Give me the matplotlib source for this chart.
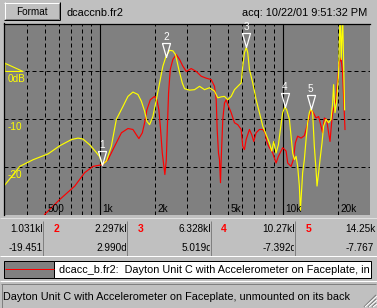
import matplotlib
matplotlib.use("Agg")
import matplotlib.pyplot as plt
from matplotlib import transforms
from matplotlib.lines import Line2D
from matplotlib.patches import Rectangle
from matplotlib.transforms import Bbox, TransformedBbox

plt.rcParams['font.family'] = ['Liberation Sans', 'DejaVu Sans']

W, H = 377, 308

# yellow trace (Hz, dB)
yellow_freq = [300, 366, 433, 522, 605, 701, 761, 811, 882, 959, 1000, 1031, 1088, 1158, 1233,
               1340, 1427, 1519, 1618, 1689, 1760, 1811, 1874, 1953, 2039, 2125, 2215, 2297,
               2409, 2511, 2597, 2708, 2827, 2910, 3097, 3298, 3512, 3740, 3982, 4240, 4420,
               4613, 4807, 5012, 5230, 5452, 5683, 5932, 6050, 6180, 6328, 6443, 6582, 6862,
               7159, 7464, 7781, 8121, 8464, 8710, 8932, 9204, 9474, 9714, 10000, 10270, 10515,
               10879, 11112, 11340, 11582, 11833, 12073, 12334, 12491, 12697, 12856, 13134,
               13418, 13689, 13984, 14250, 14576, 14889, 15212, 15404, 15716, 15996, 16402,
               16737, 17250, 17823, 18366, 18742, 18977, 19316, 19707, 20209, 20570, 20900,
               21252, 21797]
yellow_db = [-23.9, -19.8, -18.4, -17.2, -15.5, -14.2, -13.9, -14.1, -15.3, -16.9, -17.8, -19.45,
             -18.7, -15.6, -10.0, -7.3, -5.2, -4.3, -4.8, -6.2, -8.3, -10.4, -11.1, -9.4, -5.9,
             -2.4, 1.1, 2.99, 4.4, 4.3, 3.5, 0.4, -2.4, -3.6, -3.9, -3.8, -3.1, -3.8, -3.4, -4.1,
             -5.5, -5.3, -5.2, -5.9, -5.2, -3.8, -3.1, -2.4, 1.1, 3.9, 5.02, 3.9, 0.4, -2.4, -5.9,
             -8.6, -11.4, -13.2, -14.9, -16.6, -14.6, -17.0, -15.3, -12.1, -8.6, -7.39, -8.0,
             -10.0, -13.5, -17.0, -18.4, -17.7, -19.8, -23.9, -29.0, -24.6, -21.1, -18.4, -14.2,
             -10.7, -8.6, -7.77, -8.6, -15.6, -20.5, -23.9, -21.1, -18.4, -14.9, -11.4, -10.0,
             -10.7, -10.0, -6.6, -2.75, -8.6, -6.6, -0.3, 12.0, 2.5, 12.0, -8.0]

# red trace (Hz, dB)
red_freq = [485, 501, 605, 731, 828, 919, 1031, 1110, 1207, 1314, 1427, 1519, 1586, 1638, 1710,
            1760, 1811, 1891, 1995, 2054, 2106, 2151, 2198, 2243, 2271, 2312, 2341, 2379, 2430,
            2511, 2621, 2732, 2848, 2972, 3164, 3370, 3588, 3821, 4068, 4240, 4332, 4386, 4458,
            4515, 4572, 4613, 4706, 4807, 4911, 5012, 5230, 5452, 5683, 5932, 6050, 6180, 6314,
            6582, 6775, 6947, 7159, 7464, 7781, 8017, 8221, 8464, 8820, 9204, 9474, 9800, 10000,
            10437, 10650, 11112, 11438, 11729, 12073, 12601, 13134, 13418, 13862, 14284, 14703,
            15212, 15716, 16200, 16528, 16885, 17378, 17823, 18138, 18438, 18742, 19143, 19558,
            19957, 20385, 20830, 21252, 21711, 21901]
red_db = [-31.0, -29.8, -26.7, -23.9, -21.1, -19.8, -19.45, -18.4, -15.6, -12.8, -11.9, -12.1,
          -13.2, -14.0, -12.8, -10.7, -8.0, -5.9, -5.2, -5.9, -8.0, -12.1, -17.0, -19.8, -21.5,
          -18.4, -12.1, -4.5, 0.4, 2.5, 3.5, 2.5, 1.1, 0.0, 0.6, 0.0, -1.0, -1.4, -1.7, -3.1,
          -5.9, -12.1, -17.0, -18.4, -23.2, -18.4, -10.0, -6.6, -5.9, -6.9, -8.6, -10.7, -11.1,
          -12.1, -15.6, -16.3, -14.2, -12.1, -13.2, -14.6, -12.8, -12.1, -12.1, -12.8, -14.9,
          -15.9, -17.0, -19.1, -17.7, -16.6, -15.9, -16.6, -19.1, -19.8, -18.4, -14.9, -13.5,
          -13.9, -13.4, -12.1, -10.0, -8.0, -8.6, -9.7, -9.4, -11.4, -12.8, -9.7, -10.0, -12.8,
          -14.6, -11.4, -8.6, -7.3, -5.9, -1.7, 1.8, 2.8, -0.3, -8.6, -12.1]

marker_freq = [1031, 2297, 6328, 10270, 14250]
marker_db = [-19.451, 2.990, 5.019, -7.392, -7.767]

grid_freq = [400, 500, 600, 700, 800, 900, 2000, 3000, 4000, 5000, 6000, 7000, 8000, 9000, 20000]
decade_freq = [1000, 10000]
grid_db = [0, -10, -20]
xlabel_freq = [500, 1000, 2000, 5000, 10000, 20000]
xlabel_text = ['500', '1k', '2k', '5k', '10k', '20k']
ylabel_db = [0, -10, -20]
ylabel_text = ['0dB', '-10', '-20']

file_name = "dcaccnb.fr2"
acq_text = "acq: 10/22/01 9:51:32 PM"
legend_text = "dcacc_b.fr2:  Dayton Unit C with Accelerometer on Faceplate, in"
status_text = "Dayton Unit C with Accelerometer on Faceplate, unmounted on its back"

WIN = '#c0c0c0'
DARK = '#808080'
YEL = '#ffff00'
RED = '#ff0000'

fig = plt.figure(figsize=(W / 100, H / 100), dpi=100, facecolor=WIN)
# pixel coordinates, origin top-left
px = transforms.Affine2D().scale(1 / W, -1 / H).translate(0, 1) + fig.transFigure


def box(l, t, r, b):
    return [l / W, 1 - b / H, (r - l) / W, (b - t) / H]


def line(xs, ys, color, lw=0.72):
    fig.add_artist(Line2D(xs, ys, transform=px, color=color, lw=lw, solid_capstyle='butt'))


# ---- plot area
ax = fig.add_axes(box(4, 23.5, 370, 215.3))
ax.set_facecolor(DARK)
ax.set_xscale('log')
ax.set_xlim(300, 30000)
ax.set_ylim(-30, 10)
ax.tick_params(which='both', left=False, bottom=False, labelleft=False, labelbottom=False)
for s in ['right', 'bottom']:
    ax.spines[s].set_visible(False)
for s in ['left', 'top']:
    ax.spines[s].set_color('black')
    ax.spines[s].set_linewidth(0.9)

for f in grid_freq:
    ax.axvline(f, color='black', lw=0.72, ls=(0, (4, 3)))
for f in decade_freq:
    ax.axvline(f, color='black', lw=0.8)
for d in grid_db:
    ax.axhline(d, color='black', lw=0.72, ls=(0, (4, 3)))

ax.plot(red_freq, red_db, color=RED, lw=0.85)
ax.plot(yellow_freq, yellow_db, color=YEL, lw=0.85)

# markers: hollow triangle with tip on the point, number above
tri = [(-4, 14), (4, 14), (0, 0), (-4, 14)]
ax.plot(marker_freq, marker_db, ls='none', marker=tri, ms=20.16, mfc='none',
        mec='white', mew=0.9, clip_on=False)
for i, (f, d) in enumerate(zip(marker_freq, marker_db)):
    ax.annotate(str(i + 1), (f, d), xytext=(0, 12.2), textcoords='offset points',
                ha='center', va='baseline', color='white', fontsize=7.2, annotation_clip=False)

# axis labels drawn inside the plot
xblend = transforms.blended_transform_factory(ax.transData, px)
for f, s in zip(xlabel_freq, xlabel_text):
    ax.text(f, 211.7, s, transform=transforms.offset_copy(xblend, fig=fig, x=3, units='dots'),
            fontsize=7.2, color='black', ha='left', va='baseline')
yblend = transforms.blended_transform_factory(px, ax.transData)
for d, s in zip(ylabel_db, ylabel_text):
    ax.text(7.3, d, s, transform=transforms.offset_copy(yblend, fig=fig, y=-11, units='dots'),
            fontsize=7.2, color=YEL, ha='left', va='baseline')
ax.add_line(Line2D([5, 5, 23, 5], [1.7, 0, 0, 1.7], transform=yblend, color=YEL, lw=0.8))

# ---- top bar
fig.add_artist(Rectangle((4, 2), 56, 18, transform=px, facecolor=WIN, edgecolor='none'))
line([4, 59.5], [2.5, 2.5], 'white')
line([4.5, 4.5], [2, 19.5], 'white')
line([4, 60], [19.5, 19.5], 'black')
line([59.5, 59.5], [2, 20], 'black')
line([5, 59], [18.5, 18.5], DARK)
line([58.5, 58.5], [3, 19], DARK)
fig.text(32, 15, "Format", transform=px, fontsize=7.2, ha='center', va='baseline')
fig.text(66.7, 16, file_name, transform=px, fontsize=7.9, ha='left', va='baseline')
fig.text(367.7, 16, acq_text, transform=px, fontsize=7.9, ha='right', va='baseline')

# ---- marker readout table
line([0, 377], [217.5, 217.5], '#e0e0e0')
seps = [43.3, 127.3, 211.3, 295.3]
for x in seps:
    line([x, x], [220.5, 255.5], DARK)
line([0, 377], [255.8, 255.8], 'white')

row1_x = [10.3, 94.3, 178.3, 262.3, 345.0]
row2_x = [8.3, 96.0, 181.7, 262.7, 346.0]
clip_r = [42.3, 126.3, 210.3, 294.3, 377.0]


def cell_text(x, y, s, right):
    t = fig.text(x, y, s, transform=px, fontsize=7.2, ha='left', va='baseline')
    t.set_clip_box(TransformedBbox(Bbox.from_extents(0, 1 - 258 / H, right / W, 1 - 218 / H),
                                   fig.transFigure))
    t.set_clip_on(True)


n = len(marker_freq)
for i, (f, d) in enumerate(zip(marker_freq, marker_db)):
    # the last cell runs into the window edge: only the part that fits is shown
    unit_f, unit_d = ("k", "") if i == n - 1 else ("kHz", "dB")
    cell_text(row1_x[i], 232.3, f"{f / 1000:.4g}" + unit_f, clip_r[i])
    cell_text(row2_x[i], 250.7, f"{d:.3f}" + unit_d, clip_r[i])
for i, x in enumerate(seps):
    fig.text(x + 10, 232.3, str(i + 2), transform=px, fontsize=7.5, fontweight='bold',
             color=RED, ha='left', va='baseline')

# ---- legend row
fig.add_artist(Rectangle((3.5, 260.5), 50.8, 17, transform=px, facecolor=DARK,
                         edgecolor='black', lw=0.72))
line([4.5, 53.5], [269.3, 269.3], RED)
fig.add_artist(Rectangle((54.3, 260.5), 316.4, 17, transform=px, facecolor='white',
                         edgecolor='black', lw=0.72))
fig.text(59.3, 273.3, legend_text, transform=px, fontsize=7.8, ha='left', va='baseline')

# ---- status bar
line([0, 377], [280.5, 280.5], 'white')
line([1, 376], [283.5, 283.5], DARK)
line([1.5, 1.5], [283.5, 308], DARK)
fig.text(3.3, 299.8, status_text, transform=px, fontsize=7.8, ha='left', va='baseline')
for off in [4, 8, 12]:
    line([376 - off, 376], [307, 307 - off], DARK, lw=0.9)
    line([377 - off, 377], [307, 307 - off + 1], 'white', lw=0.72)

fig.savefig('out.png', dpi=100, facecolor=WIN)
